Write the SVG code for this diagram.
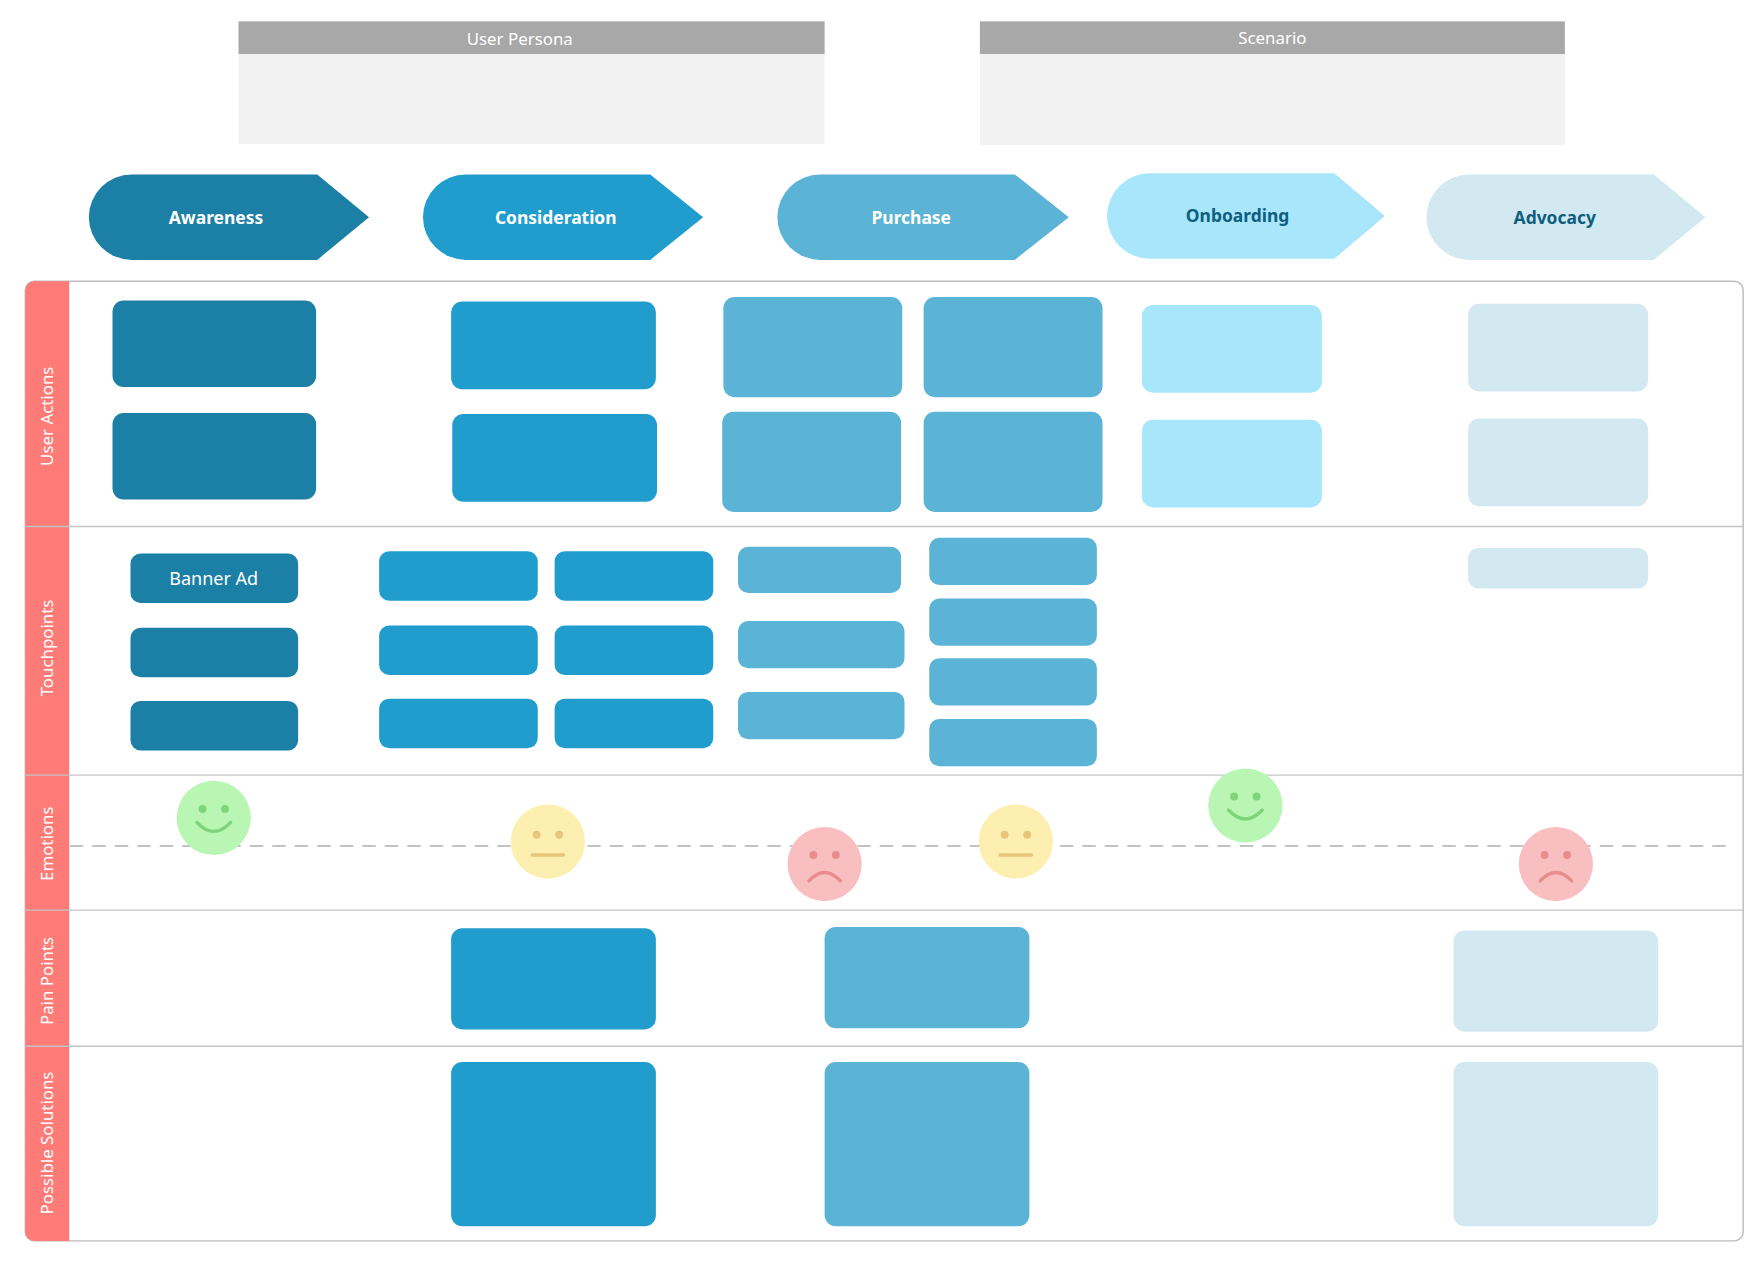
<svg xmlns="http://www.w3.org/2000/svg" width="1764" height="1270" viewBox="0 0 1764 1270">
<style>
.hd{fill:#a8a8a8}.bd{fill:#f2f2f2}
.ht{font-family:"Noto Sans",sans-serif;font-size:15px;fill:#fff;text-anchor:middle}
.pt{font-family:"Noto Sans",sans-serif;font-size:15.5px;font-weight:bold;text-anchor:middle}
.lt{font-family:"Noto Sans",sans-serif;font-size:15px;fill:#fff;text-anchor:middle}
.c1{fill:#1c7fa6}.c2{fill:#219dcd}.c3{fill:#5bb3d6}.c4{fill:#a8e6fb}.c5{fill:#d3e9f1}
.div{stroke:#c4c4c4;stroke-width:1.2}
</style>
<rect width="1764" height="1270" fill="#fff"/>
<g transform="scale(1.125)">
<g id="persona"><rect class="bd" x="212" y="48" width="521" height="80"/><rect class="hd" x="212" y="19" width="521" height="29"/><text class="ht" x="462" y="40">User Persona</text></g>
<g id="scenario"><rect class="bd" x="871" y="48" width="520" height="81"/><rect class="hd" x="871" y="19" width="520" height="29"/><text class="ht" x="1131" y="39">Scenario</text></g>

<g id="ph-awareness"><path class="c1" d="M117 155 H282 L328 193 L282 231 H117 A38 38 0 0 1 117 155Z"/><text class="pt" x="192" y="199" fill="#fff">Awareness</text></g>
<g id="ph-consideration"><path class="c2" d="M414 155 H578 L625 193 L578 231 H414 A38 38 0 0 1 414 155Z"/><text class="pt" x="494" y="199" fill="#fff">Consideration</text></g>
<g id="ph-purchase"><path class="c3" d="M729 155 H902 L950 193 L902 231 H729 A38 38 0 0 1 729 155Z"/><text class="pt" x="810" y="199" fill="#fff">Purchase</text></g>
<g id="ph-onboarding"><path class="c4" d="M1022 154 H1186 L1231 192 L1186 230 H1022 A38 38 0 0 1 1022 154Z"/><text class="pt" x="1100" y="197" fill="#0e5f7f">Onboarding</text></g>
<g id="ph-advocacy"><path class="c5" d="M1306 155 H1470 L1516 193 L1470 231 H1306 A38 38 0 0 1 1306 155Z"/><text class="pt" x="1382" y="199" fill="#0e5f7f">Advocacy</text></g>

<g id="frame">
<rect x="22.5" y="250" width="1527" height="853" rx="8" fill="#fff" stroke="#bdbdbd" stroke-width="1.3"/>
<path d="M30.5 250 H61.5 V1103 H30.5 A8 8 0 0 1 22.5 1095 V258 A8 8 0 0 1 30.5 250Z" fill="#ff7b77"/>
<line class="div" x1="22.5" y1="468" x2="1549.5" y2="468"/>
<line class="div" x1="22.5" y1="689" x2="1549.5" y2="689"/>
<line class="div" x1="22.5" y1="809" x2="1549.5" y2="809"/>
<line class="div" x1="22.5" y1="930" x2="1549.5" y2="930"/>
<text class="lt" transform="translate(47 370) rotate(-90)">User Actions</text>
<text class="lt" transform="translate(47 576) rotate(-90)">Touchpoints</text>
<text class="lt" transform="translate(47 750) rotate(-90)">Emotions</text>
<text class="lt" transform="translate(47 872) rotate(-90)">Pain Points</text>
<text class="lt" transform="translate(47 1016) rotate(-90)">Possible Solutions</text>
</g>

<g id="connectors"><line x1="62" y1="752" x2="1540" y2="752" stroke="#b0b0b0" stroke-width="1.2" stroke-dasharray="12 8"/></g>

<g id="actions">
<rect class="c1" x="100" y="267" width="181" height="77" rx="10"/><rect class="c1" x="100" y="367" width="181" height="77" rx="10"/>
<rect class="c2" x="401" y="268" width="182" height="78" rx="10"/><rect class="c2" x="402" y="368" width="182" height="78" rx="10"/>
<rect class="c3" x="643" y="264" width="159" height="89" rx="10"/><rect class="c3" x="821" y="264" width="159" height="89" rx="10"/>
<rect class="c3" x="642" y="366" width="159" height="89" rx="10"/><rect class="c3" x="821" y="366" width="159" height="89" rx="10"/>
<rect class="c4" x="1015" y="271" width="160" height="78" rx="10"/><rect class="c4" x="1015" y="373" width="160" height="78" rx="10"/>
<rect class="c5" x="1305" y="270" width="160" height="78" rx="10"/><rect class="c5" x="1305" y="372" width="160" height="78" rx="10"/>
</g>

<g id="touchpoints">
<rect class="c1" x="116" y="492" width="149" height="44" rx="9"/><text x="190" y="520" font-family="'Noto Sans',sans-serif" font-size="16" fill="#fff" text-anchor="middle">Banner Ad</text>
<rect class="c1" x="116" y="558" width="149" height="44" rx="9"/><rect class="c1" x="116" y="623" width="149" height="44" rx="9"/>
<rect class="c2" x="337" y="490" width="141" height="44" rx="9"/><rect class="c2" x="493" y="490" width="141" height="44" rx="9"/>
<rect class="c2" x="337" y="556" width="141" height="44" rx="9"/><rect class="c2" x="493" y="556" width="141" height="44" rx="9"/>
<rect class="c2" x="337" y="621" width="141" height="44" rx="9"/><rect class="c2" x="493" y="621" width="141" height="44" rx="9"/>
<rect class="c3" x="656" y="486" width="145" height="41" rx="9"/><rect class="c3" x="656" y="552" width="148" height="42" rx="9"/><rect class="c3" x="656" y="615" width="148" height="42" rx="9"/>
<rect class="c3" x="826" y="478" width="149" height="42" rx="9"/><rect class="c3" x="826" y="532" width="149" height="42" rx="9"/>
<rect class="c3" x="826" y="585" width="149" height="42" rx="9"/><rect class="c3" x="826" y="639" width="149" height="42" rx="9"/>
<rect class="c5" x="1305" y="487" width="160" height="36" rx="9"/>
</g>

<defs>
<g id="happy"><circle r="33" fill="#b9f6b4"/><circle cx="-10" cy="-8" r="3.5" fill="#7fd47b"/><circle cx="10" cy="-8" r="3.5" fill="#7fd47b"/><path d="M-15 4 Q0 20 15 4" fill="none" stroke="#7fd47b" stroke-width="3" stroke-linecap="round"/></g>
<g id="neutral"><circle r="33" fill="#fdefb0"/><circle cx="-10" cy="-6" r="3.5" fill="#e6c67d"/><circle cx="10" cy="-6" r="3.5" fill="#e6c67d"/><line x1="-14" y1="12" x2="14" y2="12" stroke="#e6c67d" stroke-width="3" stroke-linecap="round"/></g>
<g id="sad"><circle r="33" fill="#f9bfc0"/><circle cx="-10" cy="-8" r="3.5" fill="#e88c8e"/><circle cx="10" cy="-8" r="3.5" fill="#e88c8e"/><path d="M-14 15 Q0 0 14 15" fill="none" stroke="#e88c8e" stroke-width="3" stroke-linecap="round"/></g>
</defs>
<g id="emotions">
<use href="#happy" x="190" y="727"/><use href="#neutral" x="487" y="748"/><use href="#sad" x="733" y="768"/>
<use href="#neutral" x="903" y="748"/><use href="#happy" x="1107" y="716"/><use href="#sad" x="1383" y="768"/>
</g>

<g id="pain">
<rect class="c2" x="401" y="825" width="182" height="90" rx="10"/><rect class="c3" x="733" y="824" width="182" height="90" rx="10"/><rect class="c5" x="1292" y="827" width="182" height="90" rx="10"/>
</g>
<g id="solutions">
<rect class="c2" x="401" y="944" width="182" height="146" rx="10"/><rect class="c3" x="733" y="944" width="182" height="146" rx="10"/><rect class="c5" x="1292" y="944" width="182" height="146" rx="10"/>
</g>
</g>
</svg>
